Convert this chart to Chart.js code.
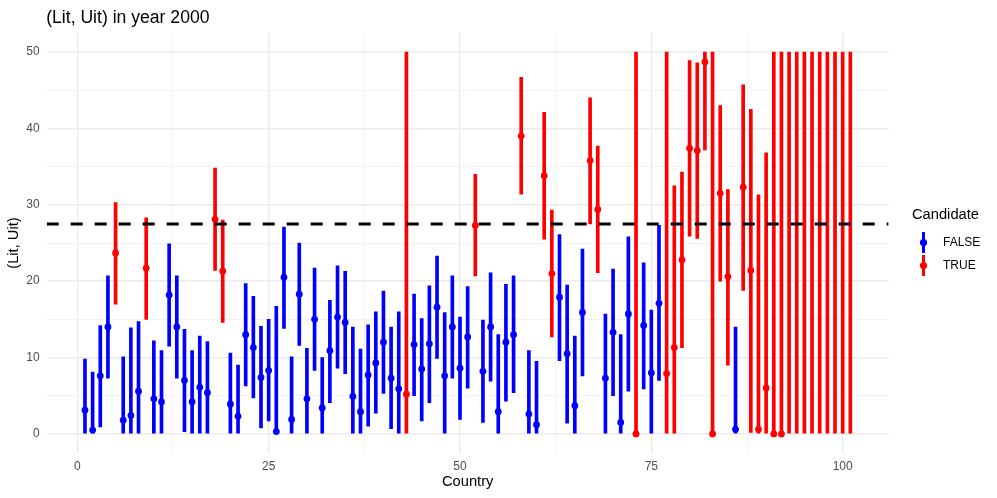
<!DOCTYPE html>
<html>
<head>
<meta charset="utf-8">
<script src="https://cdn.jsdelivr.net/npm/chart.js@4.4.1/dist/chart.umd.min.js"></script>
<style>
  html, body { margin: 0; padding: 0; background: #fff; }
  canvas { display: block; }
</style>
</head>
<body>
<canvas id="chart" width="997" height="498"></canvas>
<script>
// country index 1..101
const countries = [
  1, 2, 3, 4, 5, 6, 7, 8, 9, 10, 11, 12, 13, 14, 15, 16, 17, 18, 19, 20,
  21, 22, 23, 24, 25, 26, 27, 28, 29, 30, 31, 32, 33, 34, 35, 36, 37, 38, 39, 40,
  41, 42, 43, 44, 45, 46, 47, 48, 49, 50, 51, 52, 53, 54, 55, 56, 57, 58, 59, 60,
  61, 62, 63, 64, 65, 66, 67, 68, 69, 70, 71, 72, 73, 74, 75, 76, 77, 78, 79, 80,
  81, 82, 83, 84, 85, 86, 87, 88, 89, 90, 91, 92, 93, 94, 95, 96, 97, 98, 99, 100, 101
];

const estimate = [
  3.1, 0.5, 7.6, 14.0, 23.7, 1.8, 2.4, 5.6, 21.7, 4.6, 4.2, 18.2, 14.0, 7.0, 4.2, 6.1, 5.4, 28.1, 21.3, 3.9,
  2.3, 13.0, 11.3, 7.4, 8.3, 0.3, 20.5, 1.9, 18.3, 4.6, 15.0, 3.4, 10.9, 15.3, 14.6, 4.9, 2.9, 7.7, 9.3, 12.0,
  7.3, 5.9, 5.2, 11.7, 8.5, 11.8, 16.6, 7.6, 14.0, 8.6, 12.7, 27.3, 8.2, 14.0, 2.9, 12.0, 13.0, 39.0, 2.6, 1.2,
  33.8, 21.0, 17.9, 10.5, 3.7, 15.9, 35.8, 29.4, 7.3, 13.3, 1.5, 15.7, 0.0, 14.2, 8.0, 17.1, 7.9, 11.3, 22.8, 37.4,
  37.1, 48.7, 0.0, 31.5, 20.6, 0.6, 32.3, 21.4, 0.6, 6.0, 0.0, 0.0, null, null, null, null, null, null, null, null, null
];

const lower = [
  0, 0, 0.9, 7.3, 17.0, 0, 0, 0, 15.0, 0, 0, 11.5, 7.3, 0.3, 0, 0, 0, 21.4, 14.6, 0,
  0, 6.3, 4.7, 0.8, 1.7, 0, 13.8, 0, 11.6, 0, 8.3, 0, 4.1, 8.6, 7.9, 0, 0, 1.0, 2.7, 5.3,
  0.7, 0, 0, 5.0, 1.7, 4.1, 9.9, 0, 7.3, 1.9, 6.0, 20.7, 1.5, 6.9, 0, 4.3, 5.4, 31.4, 0, 0,
  25.5, 12.7, 9.6, 1.4, 0, 7.6, 27.5, 21.1, 0, 5.0, 0, 5.6, 0, 5.9, 0, 7.0, 0, 0, 11.3, 25.9,
  25.6, 37.2, 0, 20.0, 9.0, 0, 18.8, 0.2, 0, 0, 0, 0, 0, 0, 0, 0, 0, 0, 0, 0, 0
];

const upper = [
  9.8, 8.1, 14.2, 20.7, 30.3, 10.1, 13.9, 14.7, 28.3, 12.2, 10.9, 24.9, 20.7, 13.7, 10.9, 12.8, 12.1, 34.8, 28.0, 10.6,
  9.0, 19.7, 18.0, 14.1, 15.0, 16.7, 27.1, 10.1, 25.0, 11.2, 21.7, 10.0, 17.5, 22.0, 21.3, 14.0, 11.1, 14.3, 16.0, 18.7,
  14.0, 16.0, 50, 18.3, 15.1, 19.4, 23.3, 15.9, 20.7, 15.3, 19.3, 34.0, 14.9, 21.1, 13.0, 19.6, 20.7, 46.7, 10.9, 9.5,
  42.1, 29.3, 26.1, 19.5, 12.8, 24.2, 44.0, 37.7, 15.7, 21.6, 13.0, 25.8, 50, 22.4, 16.2, 27.3, 50, 32.5, 34.3, 48.9,
  48.6, 50, 50, 43.0, 32.0, 14.0, 45.7, 42.5, 31.3, 36.8, 50, 50, 50, 50, 50, 50, 50, 50, 50, 50, 50
];

const candidate = [
  0, 0, 0, 0, 1, 0, 0, 0, 1, 0, 0, 0, 0, 0, 0, 0, 0, 1, 1, 0,
  0, 0, 0, 0, 0, 0, 0, 0, 0, 0, 0, 0, 0, 0, 0, 0, 0, 0, 0, 0,
  0, 0, 1, 0, 0, 0, 0, 0, 0, 0, 0, 1, 0, 0, 0, 0, 0, 1, 0, 0,
  1, 1, 0, 0, 0, 0, 1, 1, 0, 0, 0, 0, 1, 0, 0, 0, 1, 1, 1, 1,
  1, 1, 1, 1, 1, 0, 1, 1, 1, 1, 1, 1, 1, 1, 1, 1, 1, 1, 1, 1, 1
].map(Boolean);

const threshold = 27.5;

const xTickLabels = [0, 25, 50, 75, 100];
const yTickLabels = [0, 10, 20, 30, 40, 50];
const legendLabels = ["FALSE", "TRUE"];

const xMin = -4, xMax = 106;
const yMin = -2.5, yMax = 52.5;

const FONT = "'Liberation Sans', Arial, sans-serif";
const BLUE = "#0000FF";
const RED = "#FF0000";
const GRID = "#EBEBEB";
const GRID_MINOR = "#F3F3F3";

// grid positions: majors plus midpoints
const withMinor = (majors) => {
  const out = [];
  majors.forEach((v, i) => {
    out.push(v);
    if (i < majors.length - 1) out.push((v + majors[i + 1]) / 2);
  });
  return out;
};
const xGrid = withMinor(xTickLabels);
const yGrid = withMinor(yTickLabels);

function split(flag) {
  const bars = [];
  const pts = [];
  countries.forEach((c, i) => {
    if (candidate[i] !== flag) return;
    bars.push({ x: c, y: [lower[i], upper[i]] });
    if (estimate[i] !== null) pts.push({ x: c, y: estimate[i] });
  });
  return { bars, pts };
}

const groupF = split(false);
const groupT = split(true);

const barSet = (data, color) => ({
  type: "bar",
  data,
  backgroundColor: color,
  borderWidth: 0,
  barThickness: 3,
  grouped: false,
  order: 3
});

const pointSet = (data, color) => ({
  type: "scatter",
  data,
  pointRadius: 3.4,
  pointBackgroundColor: color,
  pointBorderColor: color,
  pointBorderWidth: 0,
  showLine: false,
  order: 2
});

const decor = {
  id: "decor",
  afterDraw(chart) {
    const ctx = chart.ctx;
    const area = chart.chartArea;
    ctx.save();

    // title
    ctx.fillStyle = "#000";
    ctx.font = "17.6px " + FONT;
    ctx.textAlign = "left";
    ctx.textBaseline = "alphabetic";
    ctx.fillText("(Lit, Uit) in year 2000", area.left - 0.5, 23);

    // legend
    const lx = 912;
    ctx.font = "14.7px " + FONT;
    ctx.textBaseline = "middle";
    ctx.fillText("Candidate", lx, 215);

    const colors = [BLUE, RED];
    const rows = [242.5, 265.5];
    ctx.font = "12px " + FONT;
    legendLabels.forEach((label, i) => {
      const y = rows[i];
      ctx.strokeStyle = colors[i];
      ctx.fillStyle = colors[i];
      ctx.lineWidth = 3;
      ctx.beginPath();
      ctx.moveTo(923.5, y - 10.5);
      ctx.lineTo(923.5, y + 10.5);
      ctx.stroke();
      ctx.beginPath();
      ctx.arc(923.5, y, 3.6, 0, Math.PI * 2);
      ctx.fill();
      ctx.fillStyle = "#000";
      ctx.fillText(label, 943, y);
    });
    ctx.restore();
  }
};

new Chart(document.getElementById("chart"), {
  type: "scatter",
  data: {
    datasets: [
      {
        type: "line",
        data: [{ x: xMin, y: threshold }, { x: xMax, y: threshold }],
        borderColor: "#000",
        borderWidth: 3,
        borderDash: [12, 12],
        pointRadius: 0,
        fill: false,
        order: 0
      },
      pointSet(groupF.pts, BLUE),
      pointSet(groupT.pts, RED),
      barSet(groupF.bars, BLUE),
      barSet(groupT.bars, RED)
    ]
  },
  options: {
    responsive: false,
    animation: false,
    events: [],
    layout: { padding: { top: 33, right: 108.4, bottom: 0, left: 0 } },
    plugins: {
      legend: { display: false },
      tooltip: { enabled: false },
      title: { display: false }
    },
    scales: {
      x: {
        type: "linear",
        min: xMin,
        max: xMax,
        offset: false,
        afterBuildTicks: (s) => { s.ticks = xGrid.map((v) => ({ value: v })); },
        afterFit: (s) => { s.height = 45; },
        grid: {
          offset: false,
          drawTicks: false,
          color: (c) => (xTickLabels.includes(c.tick.value) ? GRID : GRID_MINOR),
          lineWidth: (c) => (xTickLabels.includes(c.tick.value) ? 1.4 : 1)
        },
        border: { display: false },
        ticks: {
          autoSkip: false,
          maxRotation: 0,
          padding: 6,
          color: "#4D4D4D",
          font: { family: FONT, size: 12 },
          callback: (v) => (xTickLabels.includes(v) ? String(v) : "")
        },
        title: {
          display: true,
          text: "Country",
          color: "#000",
          font: { family: FONT, size: 14.7, lineHeight: 1.2 },
          padding: { top: 0, bottom: 7 }
        }
      },
      y: {
        type: "linear",
        min: yMin,
        max: yMax,
        afterBuildTicks: (s) => { s.ticks = yGrid.map((v) => ({ value: v })); },
        afterFit: (s) => { s.width = 46.7; },
        grid: {
          drawTicks: false,
          color: (c) => (yTickLabels.includes(c.tick.value) ? GRID : GRID_MINOR),
          lineWidth: (c) => (yTickLabels.includes(c.tick.value) ? 1.4 : 1)
        },
        border: { display: false },
        ticks: {
          autoSkip: false,
          padding: 7,
          color: "#4D4D4D",
          font: { family: FONT, size: 12 },
          callback: (v) => (yTickLabels.includes(v) ? String(v) : "")
        },
        title: {
          display: true,
          text: "(Lit, Uit)",
          color: "#000",
          font: { family: FONT, size: 14.7, lineHeight: 1.2 },
          padding: { top: 5, bottom: 0 }
        }
      }
    }
  },
  plugins: [decor]
});
</script>
</body>
</html>
